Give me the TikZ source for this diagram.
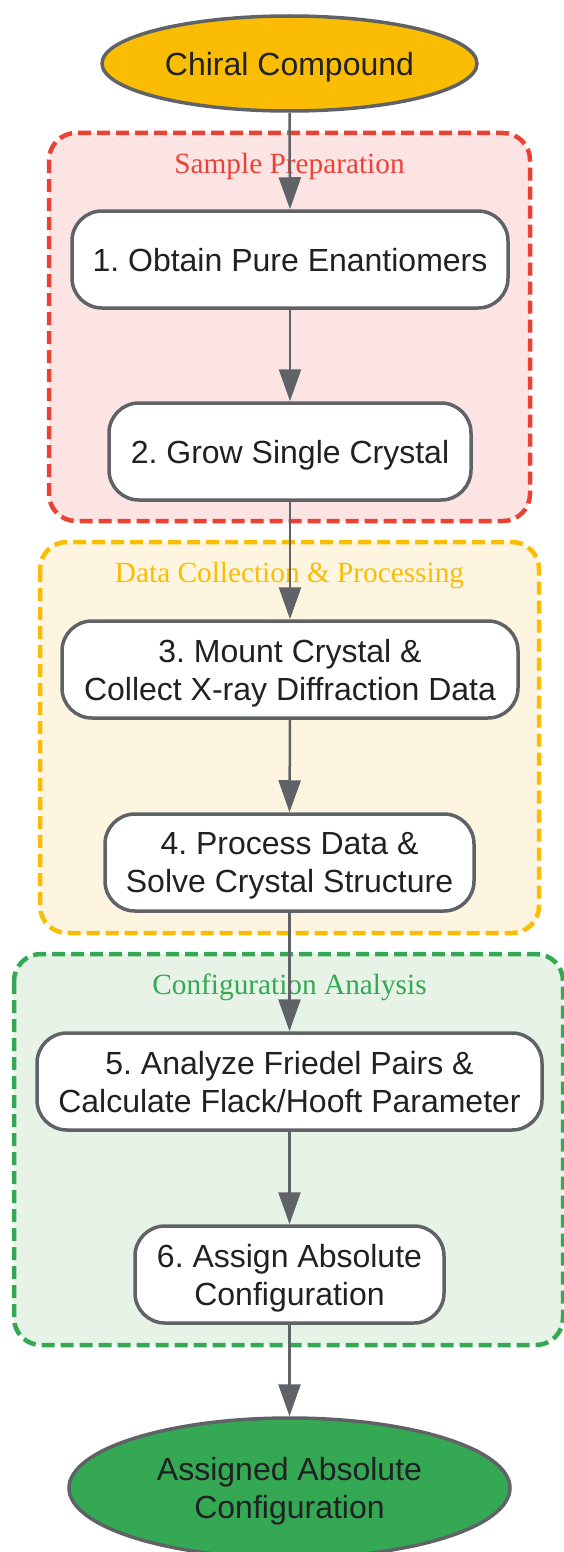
\documentclass[tikz,border=0pt]{standalone}
\usepackage{fontspec}
\setmainfont{Liberation Sans}
\newfontfamily\seriflabel{Liberation Serif}
\usetikzlibrary{arrows.meta,shapes.geometric}
\definecolor{edgegray}{HTML}{5F6368}
\definecolor{txt}{HTML}{202124}
\definecolor{gred}{HTML}{EA4335}
\definecolor{gyellow}{HTML}{FBBC04}
\definecolor{ggreen}{HTML}{34A853}
\definecolor{fred}{HTML}{FDE4E4}
\definecolor{fyellow}{HTML}{FEF5E0}
\definecolor{fgreen}{HTML}{E7F3E6}
\tikzset{
  stepbox/.style={draw=edgegray, line width=3.5pt, fill=white, rounded corners=30pt,
    minimum height=97pt, inner sep=0pt, align=center, text=txt, text depth=0pt,
    font=\fontsize{32}{38}\selectfont\frenchspacing},
  termnode/.style={ellipse, draw=edgegray, line width=3.5pt, inner sep=0pt, align=center,
    text=txt, text depth=0pt, font=\fontsize{32}{38}\selectfont\frenchspacing},
  cluster/.style={dash pattern=on 13pt off 6pt, line width=4.5pt, rounded corners=27pt},
  clabel/.style={font=\seriflabel\fontsize{29.3}{34}\selectfont, inner sep=0pt},
  flow/.style={draw=edgegray, line width=2.5pt, -{Triangle[length=32pt,width=22pt]}}
}
\begin{document}
\begin{tikzpicture}[x=1pt,y=-1pt]
\useasboundingbox (0,0) rectangle (564,1552);
\clip (0,0) rectangle (564,1552);
% clusters
\draw[cluster, draw=gred, fill=fred] (49,133) rectangle (530,521);
\draw[cluster, draw=gyellow, fill=fyellow] (40,542) rectangle (539,933);
\draw[cluster, draw=ggreen, fill=fgreen] (14,954) rectangle (563,1345);
\node[clabel, text=gred] (l1) at (289.5,166) {Sample Preparation};
\node[clabel, text=gyellow] (l2) at (289.5,575) {Data Collection \& Processing};
\node[clabel, text=ggreen] (l3) at (289.5,987) {Configuration Analysis};
% nodes
\node[termnode, fill=gyellow, minimum width=375pt, minimum height=95pt] (start) at (289.5,63.5) {Chiral Compound};
\node[stepbox, minimum width=436pt] (s1) at (290,259.5) {1. Obtain Pure Enantiomers};
\node[stepbox, minimum width=362pt] (s2) at (290,451.5) {2. Grow Single Crystal};
\node[stepbox, minimum width=456pt] (s3) at (290,669.5) {3. Mount Crystal \&\\Collect X-ray Diffraction Data};
\node[stepbox, minimum width=369pt] (s4) at (289.5,862.5) {4. Process Data \&\\Solve Crystal Structure};
\node[stepbox, minimum width=505pt] (s5) at (289.5,1081.5) {5. Analyze Friedel Pairs \&\\Calculate Flack/Hooft Parameter};
\node[stepbox, minimum width=309pt] (s6) at (289.5,1274.5) {6. Assign Absolute\\Configuration};
\node[termnode, fill=ggreen, minimum width=441pt, minimum height=140pt] (end) at (289.5,1488) {Assigned Absolute\\Configuration};
% connectors
\draw[flow] (start.south) -- (s1.north);
\draw[flow] (s1.south) -- (s2.north);
\draw[flow] (s2.south) -- (s3.north);
\draw[flow] (s3.south) -- (s4.north);
\draw[flow] (s4.south) -- (s5.north);
\draw[flow] (s5.south) -- (s6.north);
\draw[flow] (s6.south) -- (end.north);
\end{tikzpicture}
\end{document}
